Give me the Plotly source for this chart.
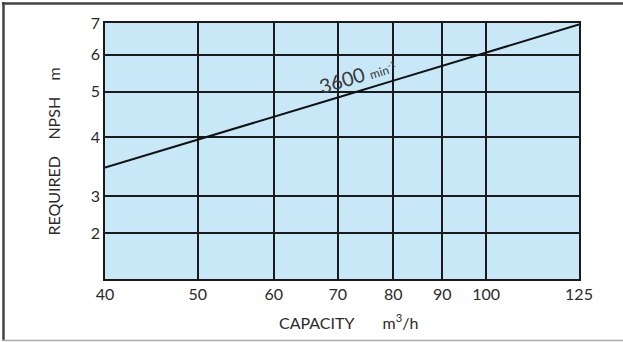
import math
import plotly.graph_objects as go

# Data (log-log)
capacity = [40, 50, 60, 70, 80, 90, 100, 125]          # m3/h
npsh_req = [3.45, 3.95, 4.42, 4.86, 5.28, 5.68, 6.05, 6.95]  # m

x_tickvals = [40, 50, 60, 70, 80, 90, 100, 125]
x_ticktext = ["40", "50", "60", "70", "80", "90", "100", "125"]
y_tickvals = [2.5, 3, 4, 5, 6, 7]
y_ticktext = ["2", "3", "4", "5", "6", "7"]

speed_label = "3600"
speed_unit = "min<sup>-1</sup>"

W, H = 623, 342
L, R, T, B = 105, 44, 23, 63
pw, ph = W - L - R, H - T - B

def px(xp):
    return (xp - L) / pw

def py(yp):
    return (H - B - yp) / ph

FONT = "Lato"
TXT = "#2a2a2a"
BG = "#c8e8f8"

fig = go.Figure()
fig.add_trace(go.Scatter(
    x=capacity, y=npsh_req, mode="lines",
    line=dict(color="#111111", width=2),
    hoverinfo="skip", showlegend=False,
))

fig.update_layout(
    width=W, height=H,
    margin=dict(l=L, r=R, t=T, b=B),
    paper_bgcolor="white",
    plot_bgcolor=BG,
    showlegend=False,
    font=dict(family=FONT, color=TXT, size=15),
)
fig.update_xaxes(
    type="log", range=[math.log10(40), math.log10(125)],
    tickvals=x_tickvals, ticktext=x_ticktext,
    showgrid=True, gridcolor="#1a1a1a", gridwidth=1.5,
    showline=True, linecolor="#1a1a1a", linewidth=1.5, mirror=True,
    ticks="", zeroline=False,
    tickfont=dict(family=FONT, size=16, color=TXT),
)
fig.update_yaxes(
    type="log", range=[math.log10(2.0), math.log10(7)],
    tickvals=y_tickvals, ticktext=y_ticktext,
    showgrid=True, gridcolor="#1a1a1a", gridwidth=1.5,
    showline=True, linecolor="#1a1a1a", linewidth=1.5, mirror=True,
    ticks="", zeroline=False,
    tickfont=dict(family=FONT, size=16, color=TXT),
)

# background patch hiding the grid behind the "3600" label (drawn under the curve)
mask = (f"M {px(316)},{py(108)} L {px(370)},{py(91)} "
        f"L {px(370)},{py(60)} L {px(316)},{py(76)} Z")
fig.add_shape(type="path", path=mask, xref="paper", yref="paper",
              fillcolor=BG, line=dict(width=0), layer="between")

# speed annotation along the curve
fig.add_annotation(
    x=math.log10(73.4), y=math.log10(5.42), xref="x", yref="y",
    text=speed_label + " <span style='font-size:12px'>" + speed_unit + "</span>",
    showarrow=False, textangle=-17,
    xanchor="center", yanchor="middle",
    font=dict(family=FONT, size=20, color="#3a3a3a"),
)

# axis titles
nb = "\u00a0"
fig.add_annotation(
    x=px(53), y=py(151.5), xref="paper", yref="paper",
    xanchor="center", yanchor="middle",
    text="REQUIRED" + nb * 4 + "NPSH" + nb * 4 + "m",
    showarrow=False, textangle=-90,
    font=dict(family=FONT, size=16, color=TXT),
)
fig.add_annotation(
    x=px(348), y=py(321), xref="paper", yref="paper",
    xanchor="center", yanchor="middle",
    text="CAPACITY" + nb * 7 + "m<sup>3</sup>/h",
    showarrow=False,
    font=dict(family=FONT, size=16, color=TXT),
)

# outer frame
fig.add_shape(type="line", xref="paper", yref="paper",
              x0=px(2), x1=px(623), y0=py(3.5), y1=py(3.5),
              line=dict(color="#444444", width=2.5))
fig.add_shape(type="line", xref="paper", yref="paper",
              x0=px(3.5), x1=px(3.5), y0=py(2), y1=py(341),
              line=dict(color="#444444", width=2.5))
fig.add_shape(type="line", xref="paper", yref="paper",
              x0=px(2), x1=px(623), y0=py(340.5), y1=py(340.5),
              line=dict(color="#aaaaaa", width=1.5))

fig.write_html("out.html", config={"displayModeBar": False},
               post_script="document.body.style.margin='0';document.body.style.overflow='hidden';")
